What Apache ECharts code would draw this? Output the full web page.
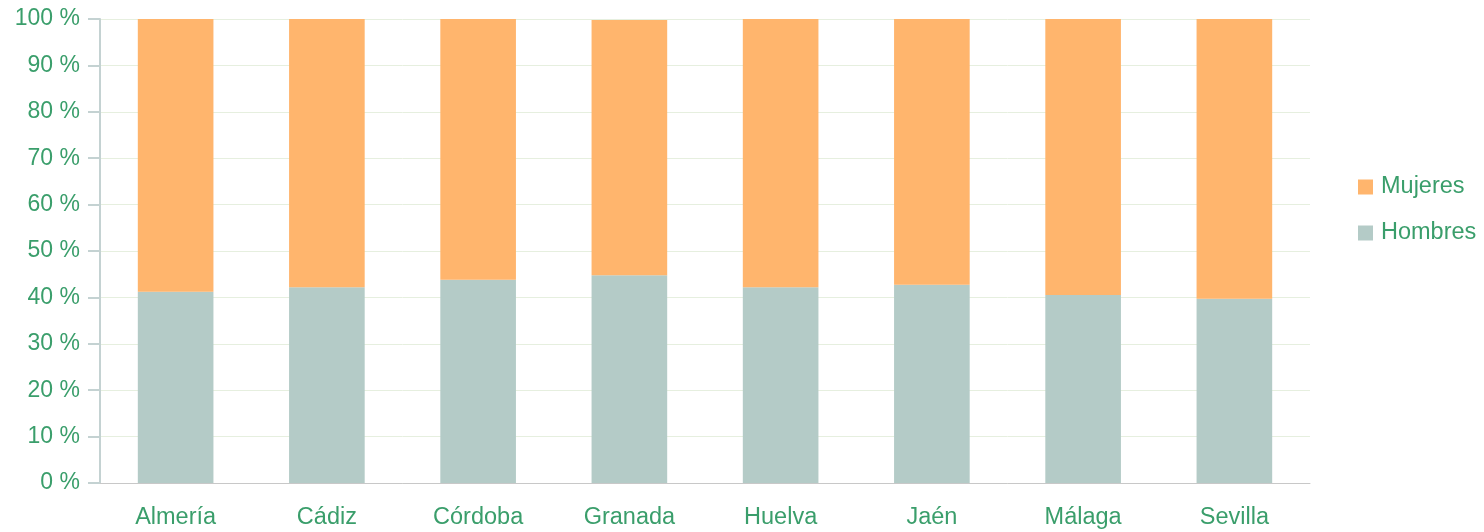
<!DOCTYPE html>
<html>
<head>
    <meta charset="utf-8">
    <script src="https://cdn.jsdelivr.net/npm/echarts@6/dist/echarts.min.js"></script>
    <style>
        body { margin: 0; background: #fff; }
    </style>
</head>
<body>
<div id="main" style="width: 1484px;height:532px;"></div>
<script type="text/javascript">
    // provincias y porcentajes por sexo
    var provincias = ['Almería', 'Cádiz', 'Córdoba', 'Granada', 'Huelva', 'Jaén', 'Málaga', 'Sevilla'];
    var hombres = [41.2, 42.2, 43.8, 44.8, 42.2, 42.7, 40.5, 39.7];
    var mujeres = [58.8, 57.8, 56.2, 55.0, 57.8, 57.3, 59.5, 60.3];

    var verde = '#3a9e6b';
    var myChart = echarts.init(document.getElementById('main'));

    myChart.setOption({
        animation: false,
        color: ['#b4cbc7', '#ffb56d'],
        textStyle: { fontFamily: 'Liberation Sans' },
        grid: { left: 100, right: 174, top: 19, bottom: 49 },
        legend: {
            orient: 'vertical',
            left: 1358,
            top: 175,
            padding: 0,
            itemWidth: 15,
            itemHeight: 15,
            itemGap: 22,
            icon: 'rect',
            data: ['Mujeres', 'Hombres'],
            textStyle: { color: verde, fontSize: 23.5, fontFamily: 'Liberation Sans', padding: [0, 0, 0, 3] }
        },
        xAxis: {
            type: 'category',
            data: provincias,
            axisLine: { lineStyle: { color: '#c8c8c8', width: 1 } },
            axisTick: { length: 9, lineStyle: { color: '#c8c8c8' } },
            axisLabel: { color: verde, fontSize: 23.5, margin: 23 }
        },
        yAxis: {
            type: 'value',
            min: 0,
            max: 100,
            interval: 10,
            axisLine: { show: true, lineStyle: { color: '#c4d2d2', width: 2 } },
            axisTick: { show: true, length: 12, lineStyle: { color: '#c4d2d2', width: 2 } },
            splitLine: { lineStyle: { color: '#e6efdf', width: 1 } },
            axisLabel: { color: verde, fontSize: 23, margin: 20, formatter: '{value} %' }
        },
        series: [
            { name: 'Hombres', type: 'bar', stack: 'total', barWidth: '50%', data: hombres },
            { name: 'Mujeres', type: 'bar', stack: 'total', barWidth: '50%', data: mujeres }
        ]
    });
</script>
</body>
</html>
